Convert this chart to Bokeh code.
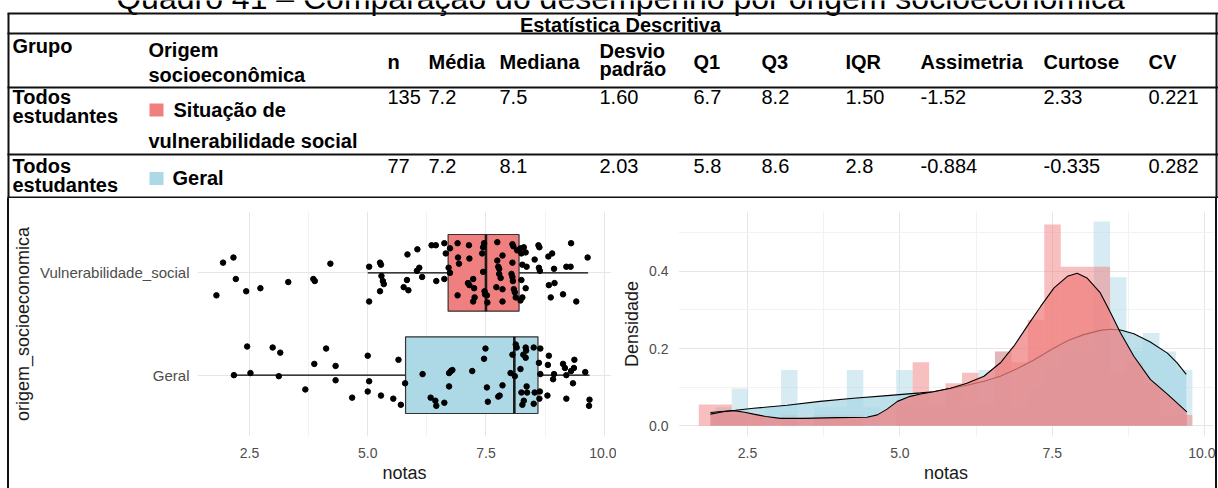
from bokeh.plotting import figure
from bokeh.layouts import column, row
from bokeh.models import Range1d, FixedTicker, PrintfTickFormatter, Div
from bokeh.core.properties import value
from bokeh.embed import file_html
from bokeh.resources import INLINE

FONT = "Liberation Sans"

# ---------------- data ----------------
title_text = "Quadro 41 – Comparação do desempenho por origem socioeconômica"
table_caption = "Estatística Descritiva"
stat_headers = ["n", "Média", "Mediana", "Desvio", "Q1", "Q3", "IQR", "Assimetria", "Curtose", "CV"]
stats_vul = ["135", "7.2", "7.5", "1.60", "6.7", "8.2", "1.50", "-1.52", "2.33", "0.221"]
stats_ger = ["77", "7.2", "8.1", "2.03", "5.8", "8.6", "2.8", "-0.884", "-0.335", "0.282"]

cat_labels = ["Geral", "Vulnerabilidade_social"]
cat_pos = [1, 2]
box_q1 = [5.8, 6.7]
box_med = [8.1, 7.5]
box_q3 = [8.6, 8.2]
whisk_lo = [2.17, 5.0]
whisk_hi = [9.69, 9.66]
box_colors = ["#ADD8E6", "#F08080"]

vul_notas = [1.80, 1.94, 2.16, 2.21, 2.43, 2.73, 3.32, 3.85, 3.88, 4.21,
             5.03, 5.03, 5.26, 5.28, 5.29, 5.32, 5.34, 5.26, 5.76, 5.83,
             5.84, 5.86, 6.05, 6.04, 6.09, 6.15, 6.35, 6.44, 6.45, 6.62,
             6.62, 6.65, 6.71, 6.74, 6.74, 6.90, 6.91, 6.93, 6.90, 7.14,
             7.15, 7.12, 7.15, 7.23, 7.25, 7.26, 7.23, 7.42, 7.44, 7.46,
             7.44, 7.47, 7.48, 7.52, 7.53, 7.74, 7.74, 7.72, 7.76, 7.78,
             7.78, 7.81, 7.85, 7.85, 7.85, 8.06, 8.08, 8.06, 8.04, 8.06,
             8.07, 8.09, 8.11, 8.13, 8.16, 8.23, 8.25, 8.27, 8.25, 8.23,
             8.27, 8.30, 8.34, 8.36, 8.34, 8.53, 8.61, 8.63, 8.62, 8.64,
             8.82, 8.90, 8.94, 8.83, 8.95, 8.87, 9.13, 9.20, 9.29, 9.30,
             9.41, 9.65]
vul_jit = [-0.22, 0.10, 0.15, -0.06, -0.18, -0.15, -0.09, -0.06, -0.08, 0.09,
           0.06, -0.28, 0.10, 0.08, -0.03, -0.08, -0.11, -0.18, -0.14, -0.07,
           0.18, -0.17, 0.23, 0.02, 0.05, -0.04, 0.27, 0.27, -0.08, 0.29,
           -0.06, 0.19, 0.05, 0.00, 0.24, 0.29, 0.15, 0.09, -0.22, 0.27,
           0.14, -0.10, -0.12, -0.06, -0.15, -0.24, -0.28, 0.19, 0.25, 0.29,
           0.01, -0.18, -0.21, -0.22, -0.29, 0.30, 0.12, -0.14, 0.06, 0.04,
           -0.01, -0.05, 0.17, -0.16, -0.28, 0.28, 0.26, 0.10, -0.01, -0.04,
           -0.08, -0.16, -0.19, -0.24, 0.22, 0.24, 0.19, 0.08, -0.07, -0.27,
           -0.24, 0.25, 0.20, 0.06, -0.15, 0.13, 0.27, 0.25, 0.05, 0.02,
           0.16, 0.19, 0.04, -0.12, -0.10, -0.24, -0.21, 0.06, 0.06, 0.29,
           -0.28, 0.15]

ger_notas = [2.17, 2.45, 2.52, 2.99, 3.15, 3.12, 3.68, 3.87, 4.12, 4.32,
             4.32, 4.67, 5.00, 5.03, 5.00, 5.28, 5.54, 5.65, 5.70, 5.79,
             6.16, 6.33, 6.43, 6.45, 6.62, 6.72, 6.76, 6.79, 6.72, 7.21,
             7.49, 7.46, 7.52, 7.54, 7.76, 7.79, 7.85, 8.02, 8.06, 8.11,
             8.13, 8.15, 8.23, 8.25, 8.27, 8.30, 8.34, 8.35, 8.34, 8.36,
             8.37, 8.51, 8.53, 8.51, 8.65, 8.62, 8.64, 8.63, 8.83, 8.81,
             8.80, 8.92, 8.94, 9.13, 9.17, 9.20, 9.20, 9.34, 9.30, 9.36,
             9.37, 9.60, 9.69, 9.68, 8.29, 8.65]
ger_jit = [0.00, 0.28, 0.02, 0.27, 0.22, -0.01, -0.14, 0.11, 0.26, 0.09,
           -0.05, -0.22, 0.19, -0.06, -0.16, -0.20, -0.23, 0.15, -0.29, -0.08,
           0.01, -0.22, -0.25, -0.30, -0.27, 0.02, 0.04, 0.05, -0.11, 0.04,
           0.26, 0.16, -0.12, -0.26, -0.21, -0.20, -0.10, 0.02, 0.20, -0.01,
           0.30, 0.27, 0.06, -0.17, -0.29, -0.25, 0.27, 0.24, 0.17, -0.11,
           -0.17, -0.28, -0.17, 0.27, 0.26, 0.12, -0.16, -0.23, 0.19, 0.10,
           -0.20, -0.04, 0.01, 0.11, 0.07, 0.00, -0.23, -0.08, 0.04, 0.07,
           0.15, 0.03, -0.24, -0.30, 0.20, 0.01]

hist_edges = [1.70, 1.97, 2.24, 2.51, 2.78, 3.05, 3.32, 3.59, 3.86, 4.13, 4.40,
              4.67, 4.94, 5.21, 5.48, 5.75, 6.02, 6.29, 6.56, 6.83, 7.10,
              7.37, 7.64, 7.91, 8.18, 8.45, 8.72, 8.99, 9.26, 9.53, 9.80]
hist_vul_counts = [2, 2, 1, 1, 0, 1, 0, 1, 1, 1, 0, 0, 2, 6, 2, 4, 5, 2, 7, 6,
                   10, 19, 15, 15, 15, 5, 6, 4, 1, 1]
hist_ger_counts = [0, 1, 2, 0, 1, 3, 0, 1, 1, 3, 1, 0, 3, 1, 1, 2, 1, 3, 4, 1,
                   2, 3, 4, 4, 11, 8, 4, 5, 4, 3]
n_vul = 135
n_ger = 77

dens_vul_x = [1.89, 2.10, 2.28, 2.45, 2.60, 2.80, 3.04, 3.42, 3.97, 4.46, 4.63, 4.79,
              4.96, 5.17, 5.34, 5.55, 5.83, 6.10, 6.38, 6.65, 6.87, 7.09, 7.31, 7.53,
              7.75, 7.91, 8.07, 8.29, 8.46, 8.62, 8.84, 9.11, 9.39, 9.66, 9.71]
dens_vul_y = [0.030, 0.036, 0.039, 0.035, 0.030, 0.024, 0.019, 0.019, 0.021, 0.022, 0.028,
              0.043, 0.063, 0.076, 0.082, 0.088, 0.097, 0.110, 0.128, 0.163, 0.206, 0.258,
              0.309, 0.357, 0.387, 0.395, 0.383, 0.344, 0.292, 0.241, 0.180, 0.120, 0.082,
              0.043, 0.036]
dens_ger_x = [1.89, 2.30, 2.60, 3.15, 3.69, 4.24, 4.79, 5.34, 5.55, 6.10, 6.38, 6.65,
              6.93, 7.20, 7.48, 7.75, 8.02, 8.29, 8.46, 8.62, 8.84, 9.11, 9.39, 9.55, 9.70]
dens_ger_y = [0.034, 0.040, 0.045, 0.053, 0.063, 0.071, 0.078, 0.085, 0.088, 0.105, 0.115,
              0.128, 0.148, 0.170, 0.197, 0.220, 0.236, 0.247, 0.250, 0.248, 0.238, 0.217,
              0.188, 0.163, 0.133]

# ---------------- table (top) ----------------
top = figure(width=1218, height=198, x_range=Range1d(0, 1218), y_range=Range1d(198, 0),
             output_backend="svg", toolbar_location=None, min_border=0,
             x_axis_type=None, y_axis_type=None, outline_line_color=None)
top.grid.visible = False


def txt(p, xs, ys, texts, size=20, style="normal", align="left", color="black"):
    # ys are the wanted baselines; the text is anchored on its middle
    p.text(x=xs, y=[y - 0.35 * size for y in ys], text=texts, text_font=value(FONT),
           text_font_size=f"{size}px", text_font_style=style, text_align=align,
           text_baseline="middle", text_color=color)


txt(top, [620], [9], [title_text], size=32, align="center")
txt(top, [620], [31], [table_caption], style="bold", align="center")

col_x = [387, 428, 499, 599, 693, 761, 845, 920, 1043, 1148]
hdr_y = [68, 68, 68, 57, 68, 68, 68, 68, 68, 68]
txt(top, col_x, hdr_y, stat_headers, style="bold")
txt(top, [599], [75], ["padrão"], style="bold")
txt(top, [12, 148, 148], [52, 56, 81], ["Grupo", "Origem", "socioeconômica"], style="bold")
txt(top, [12, 12, 173, 148], [103, 122, 116, 147],
    ["Todos", "estudantes", "Situação de", "vulnerabilidade social"], style="bold")
txt(top, [12, 12, 172], [172, 191, 184], ["Todos", "estudantes", "Geral"], style="bold")
txt(top, col_x, [103] * len(col_x), stats_vul)
txt(top, col_x, [172] * len(col_x), stats_ger)

top.rect(x=[156, 156], y=[109.5, 178], width=14, height=13,
         fill_color=["#F08080", "#ADD8E6"], line_color=None)
hy = [13, 33, 87, 154, 197]
top.segment(x0=[7] * 5, y0=hy, x1=[1218] * 5, y1=hy, line_width=2, line_color="#111111")
top.segment(x0=[8, 1216], y0=[13, 13], x1=[8, 1216], y1=[198, 198], line_width=2,
            line_color="#111111")


def style_axes(p):
    for ax in (p.xaxis[0], p.yaxis[0]):
        ax.axis_line_color = None
        ax.major_tick_line_color = None
        ax.minor_tick_line_color = None
        ax.major_tick_out = 0
        ax.major_tick_in = 0
        ax.minor_tick_out = 0
        ax.minor_tick_in = 0
        ax.major_label_text_font = FONT
        ax.major_label_text_color = "#4d4d4d"
        ax.axis_label_text_font = FONT
        ax.axis_label_text_font_style = "normal"
        ax.axis_label_text_font_size = "18px"
        ax.axis_label_text_color = "#1a1a1a"
    p.xaxis[0].major_label_text_font_size = "14px"
    p.xaxis[0].major_label_standoff = 11
    p.xaxis[0].axis_label_standoff = 2
    p.xgrid.grid_line_color = "#e6e6e6"
    p.xgrid.minor_grid_line_color = "#f2f2f2"
    p.ygrid.grid_line_color = "#e6e6e6"


BOT_H = 290

# ---------------- boxplot ----------------
pb = figure(width=607, height=BOT_H, x_range=Range1d(1.40, 10.155), y_range=Range1d(0.4, 2.6),
            output_backend="svg", toolbar_location=None, min_border_left=187,
            min_border_right=5, min_border_top=13, min_border_bottom=52,
            outline_line_color=None)
pb.xaxis.ticker = FixedTicker(ticks=[2.5, 5, 7.5, 10], minor_ticks=[3.75, 6.25, 8.75])
pb.xaxis.formatter = PrintfTickFormatter(format="%.1f")
pb.xaxis.axis_label = "notas"
pb.yaxis.ticker = FixedTicker(ticks=cat_pos)
pb.yaxis.major_label_overrides = {p_: l for p_, l in zip(cat_pos, cat_labels)}
pb.yaxis.axis_label = "origem_socioeconomica"
style_axes(pb)
pb.yaxis.major_label_text_font_size = "15px"
pb.yaxis.major_label_standoff = 8
pb.yaxis.axis_label_standoff = 4

pb.segment(x0=whisk_lo, y0=cat_pos, x1=box_q1, y1=cat_pos, line_color="black", line_width=1.3)
pb.segment(x0=box_q3, y0=cat_pos, x1=whisk_hi, y1=cat_pos, line_color="black", line_width=1.3)
pb.hbar(y=cat_pos, left=box_q1, right=box_q3, height=0.75, fill_color=box_colors,
        line_color="#333333", line_width=1.2)
pb.segment(x0=box_med, y0=[c - 0.375 for c in cat_pos], x1=box_med,
           y1=[c + 0.375 for c in cat_pos], line_color="#1a1a1a", line_width=2.6)
pb.scatter(x=vul_notas, y=[cat_pos[1] + j for j in vul_jit], size=5.5, color="black")
pb.scatter(x=ger_notas, y=[cat_pos[0] + j for j in ger_jit], size=5.5, color="black")

# ---------------- density / histogram ----------------
pdn = figure(width=599, height=BOT_H, x_range=Range1d(1.367, 10.147), y_range=Range1d(-0.028, 0.555),
             output_backend="svg", toolbar_location=None, min_border_left=62,
             min_border_right=2, min_border_top=13, min_border_bottom=52,
             outline_line_color=None)
pdn.xaxis.ticker = FixedTicker(ticks=[2.5, 5, 7.5, 10], minor_ticks=[3.75, 6.25, 8.75])
pdn.xaxis.formatter = PrintfTickFormatter(format="%.1f")
pdn.xaxis.axis_label = "notas"
pdn.yaxis.ticker = FixedTicker(ticks=[0, 0.2, 0.4], minor_ticks=[0.1, 0.3, 0.5])
pdn.yaxis.formatter = PrintfTickFormatter(format="%.1f")
pdn.yaxis.axis_label = "Densidade"
style_axes(pdn)
pdn.yaxis.major_label_text_font_size = "14px"
pdn.yaxis.major_label_standoff = 10
pdn.yaxis.axis_label_standoff = 4
pdn.ygrid.minor_grid_line_color = "#f2f2f2"

bw = [hist_edges[i + 1] - hist_edges[i] for i in range(len(hist_edges) - 1)]
pdn.quad(left=hist_edges[:-1], right=hist_edges[1:], bottom=0,
         top=[c / (n_ger * w) for c, w in zip(hist_ger_counts, bw)],
         fill_color="#ADD8E6", fill_alpha=0.5, line_color=None)
pdn.quad(left=hist_edges[:-1], right=hist_edges[1:], bottom=0,
         top=[c / (n_vul * w) for c, w in zip(hist_vul_counts, bw)],
         fill_color="#F08080", fill_alpha=0.5, line_color=None)
pdn.varea(x=dens_ger_x, y1=0, y2=dens_ger_y, fill_color="#ADD8E6", fill_alpha=0.8)
pdn.line(dens_ger_x, dens_ger_y, line_color="black", line_width=1.1)
pdn.varea(x=dens_vul_x, y1=0, y2=dens_vul_y, fill_color="#F08080", fill_alpha=0.75)
pdn.line(dens_vul_x, dens_vul_y, line_color="black", line_width=1.1)

# ---------------- layout ----------------
def bar_div(w, color):
    return Div(width=w, height=BOT_H, margin=0, styles={"background-color": color})


layout = column(top,
                row(bar_div(7, "white"), bar_div(2, "#111111"), pb, pdn,
                    bar_div(2, "#111111"), bar_div(1, "white")))

open("out.html", "w").write(file_html(layout, INLINE))
